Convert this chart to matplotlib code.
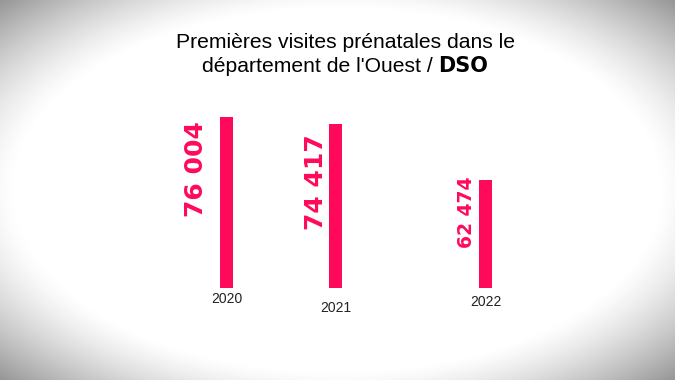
import numpy as np
import matplotlib.pyplot as plt

# data
years = ['2020', '2021', '2022']
visits = [76004, 74417, 62474]
labels = ['76 004', '74 417', '62 474']

# layout (figure pixels)
bar_x = [226.5, 335.5, 485.5]
label_size = [18, 18, 13.5]
label_dx = [-12, -1, -3]
label_dy = [-4, -10, 3]
year_dy = [0, 6, 2]
pink = '#ff0a5a'

fig = plt.figure(figsize=(6.75, 3.8), dpi=100)

# vignette background, darker only towards the corners
bg = fig.add_axes([0, 0, 1, 1])
xx, yy = np.meshgrid(np.linspace(-1, 1, 675), np.linspace(-1, 1, 380))
r = np.sqrt(xx**2 + yy**2)
shade = 1 - 0.42 * np.clip((r - 0.95) / 0.47, 0, 1) ** 1.3
bg.imshow(shade, cmap='gray', vmin=0, vmax=1, aspect='auto', extent=[0, 1, 0, 1])
bg.axis('off')

# bars
ax = fig.add_axes([0, (380 - 288) / 380, 1, (288 - 102) / 380])
ax.patch.set_alpha(0)
ax.bar(bar_x, visits, width=13, color=pink)
ax.set_xlim(0, 675)
ax.set_ylim(39300, 79200)
ax.axis('off')

for x, v, lab, fs, dx, dy in zip(bar_x, visits, labels, label_size, label_dx, label_dy):
    ax.annotate(lab, (x - 6.5, v), xytext=(dx * 0.72, dy * 0.72),
                textcoords='offset points', rotation=90, ha='right', va='top',
                color=pink, fontsize=fs, fontweight='bold', family='DejaVu Sans')

for x, yr, dy in zip(bar_x, years, year_dy):
    ax.annotate(yr, (x, 39300), xytext=(0, -3 - dy), textcoords='offset points',
                ha='center', va='top', fontsize=10, color='#222222',
                family='Liberation Sans')

# title
fig.text(345 / 675, 1 - 42 / 380, 'Premières visites prénatales dans le',
         ha='center', va='center', fontsize=15.2, family='Liberation Sans')
t1 = fig.text(0, 1 - 66 / 380, "département de l'Ouest / ",
              ha='left', va='center', fontsize=15.2, family='Liberation Sans')
t2 = fig.text(0, 1 - 66 / 380, 'DSO', ha='left', va='center', fontsize=15,
              fontweight='bold', family='DejaVu Sans')
rend = fig.canvas.get_renderer()
w1 = t1.get_window_extent(rend).width
w2 = t2.get_window_extent(rend).width
x0 = 345 - (w1 + w2) / 2
t1.set_x(x0 / 675)
t2.set_x((x0 + w1) / 675)

fig.savefig('out.png', dpi=100)
